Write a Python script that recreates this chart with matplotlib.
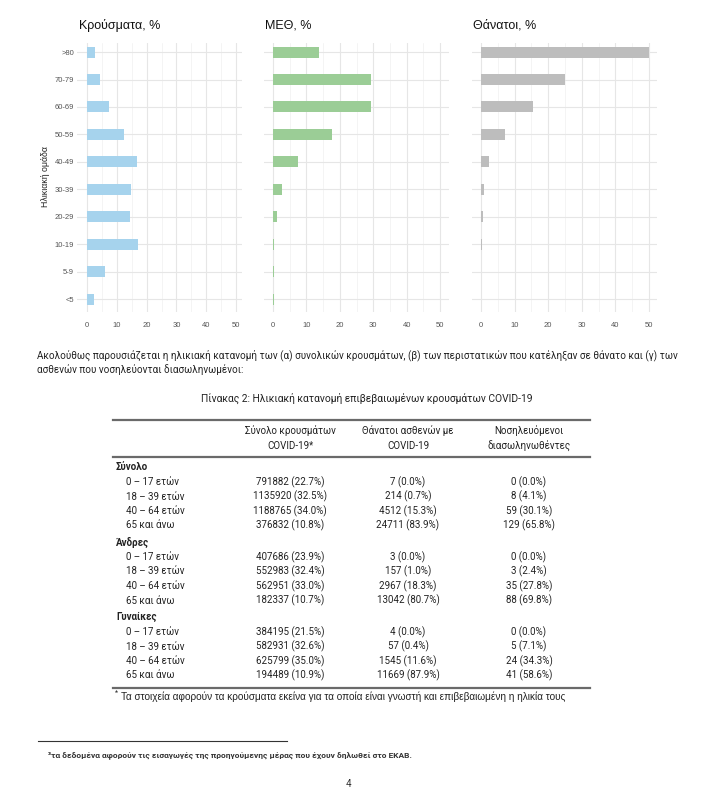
"""Age distribution page: three horizontal bar panels plus the summary table."""

import matplotlib

matplotlib.use("Agg")

import matplotlib.pyplot as plt
from matplotlib.lines import Line2D

W, H = 702, 791

# --- chart data (percent per age group, bottom to top) ---
AGE_GROUPS = ["<5", "5-9", "10-19", "20-29", "30-39", "40-49", "50-59", "60-69", "70-79", ">80"]
CASES_PCT = [2.5, 6.1, 17.2, 14.5, 14.8, 16.9, 12.5, 7.5, 4.5, 2.8]
ICU_PCT = [0.3, 0.2, 0.3, 1.1, 2.6, 7.4, 17.6, 29.3, 29.3, 13.7]
DEATHS_PCT = [0.1, 0.0, 0.2, 0.5, 0.9, 2.4, 7.1, 15.5, 25.0, 50.0]
PANEL_TITLES = ["Κρούσματα, %", "ΜΕΘ, %", "Θάνατοι, %"]
X_TICKS = [0, 10, 20, 30, 40, 50]

# --- table data ---
GROUPS = ["Σύνολο", "Άνδρες", "Γυναίκες"]
AGE_ROWS = ["0 – 17 ετών", "18 – 39 ετών", "40 – 64 ετών", "65 και άνω"]
CASES = [[791882, 1135920, 1188765, 376832],
         [407686, 552983, 562951, 182337],
         [384195, 582931, 625799, 194489]]
CASES_SHARE = [[22.7, 32.5, 34.0, 10.8],
               [23.9, 32.4, 33.0, 10.7],
               [21.5, 32.6, 35.0, 10.9]]
DEATHS = [[7, 214, 4512, 24711],
          [3, 157, 2967, 13042],
          [4, 57, 1545, 11669]]
DEATHS_SHARE = [[0.0, 0.7, 15.3, 83.9],
                [0.0, 1.0, 18.3, 80.7],
                [0.0, 0.4, 11.6, 87.9]]
ICU = [[0, 8, 59, 129],
       [0, 3, 35, 88],
       [0, 5, 24, 41]]
ICU_SHARE = [[0.0, 4.1, 30.1, 65.8],
             [0.0, 2.4, 27.8, 69.8],
             [0.0, 7.1, 34.3, 58.6]]
HEADERS = [("Σύνολο κρουσμάτων", "COVID-19*"),
           ("Θάνατοι ασθενών με", "COVID-19"),
           ("Νοσηλευόμενοι", "διασωληνωθέντες")]

CHART_FONT = ["Liberation Sans", "DejaVu Sans"]
DOC_FONT = ["Roboto", "DejaVu Sans"]

fig = plt.figure(figsize=(W / 100, H / 100), dpi=100)
fig.patch.set_facecolor("white")

# page-level axes in pixel coordinates for text and rules
page = fig.add_axes([0, 0, 1, 1])
page.set_xlim(0, W)
page.set_ylim(H, 0)
page.axis("off")


def px_axes(left, top, right, bottom):
    return fig.add_axes([left / W, 1 - bottom / H, (right - left) / W, (bottom - top) / H])


# (grid left, grid right, px of 0, px of 50)
panel_px = [(77, 242, 87, 236), (264, 449, 273, 440), (472, 657, 481, 649)]
panel_data = [CASES_PCT, ICU_PCT, DEATHS_PCT]
panel_colors = ["#a6d3ed", "#9bcd96", "#bdbdbd"]
title_x = [79, 265, 473]

for i, (gl, gr, x0, x50) in enumerate(panel_px):
    ax = px_axes(gl, 43, gr, 312)
    s = (x50 - x0) / 50
    ax.set_xlim((gl - x0) / s, (gr - x0) / s)
    ax.set_ylim(-0.47, 9.33)
    ax.set_axisbelow(True)
    ax.barh(range(len(AGE_GROUPS)), panel_data[i], height=0.4, color=panel_colors[i])
    ax.set_xticks(X_TICKS)
    ax.set_xticks([5, 15, 25, 35, 45], minor=True)
    ax.set_yticks(range(len(AGE_GROUPS)))
    ax.set_yticklabels(AGE_GROUPS if i == 0 else [])
    ax.grid(True, which="major", color="#e6e6e6", lw=0.8)
    ax.grid(True, which="minor", axis="x", color="#f0f0f0", lw=0.5)
    ax.tick_params(which="both", length=0, labelsize=5.5, labelcolor="#555555")
    ax.tick_params(axis="x", pad=7)
    ax.tick_params(axis="y", pad=2)
    for lab in ax.get_xticklabels() + ax.get_yticklabels():
        lab.set_fontfamily(CHART_FONT)
    for sp in ax.spines.values():
        sp.set_visible(False)
    page.text(title_x[i], 25, PANEL_TITLES[i], fontsize=9, family=CHART_FONT,
              color="#111111", va="center", ha="left")

page.text(45, 177, "Ηλικιακή ομάδα", rotation=90, fontsize=6.3, family=CHART_FONT,
          color="#222222", ha="center", va="center")

# --- paragraph and caption ---
page.text(37, 355, "Ακολούθως παρουσιάζεται η ηλικιακή κατανομή των (α) συνολικών κρουσμάτων, "
          "(β) των περιστατικών που κατέληξαν σε θάνατο και (γ) των",
          fontsize=7.1, family=DOC_FONT, color="#222222", va="center")
page.text(37, 370, "ασθενών που νοσηλεύονται διασωληνωμένοι:",
          fontsize=7.1, family=DOC_FONT, color="#222222", va="center")
page.text(367, 398, "Πίνακας 2: Ηλικιακή κατανομή επιβεβαιωμένων κρουσμάτων COVID-19",
          fontsize=7.4, family=DOC_FONT, color="#222222", ha="center", va="center")

# --- table ---
tx0, tx1 = 113, 590
col_x = [290, 408, 529]
for yy in (420, 457, 688):
    page.add_line(Line2D([tx0, tx1], [yy, yy], color="#6a6a6a", lw=1.6))

for c, (l1, l2) in enumerate(HEADERS):
    page.text(col_x[c], 431, l1, fontsize=7, family=DOC_FONT, color="#222222", ha="center", va="center")
    page.text(col_x[c], 446, l2, fontsize=7, family=DOC_FONT, color="#222222", ha="center", va="center")

group_y = [467, 542, 617]
columns = [(CASES, CASES_SHARE), (DEATHS, DEATHS_SHARE), (ICU, ICU_SHARE)]
for g, gname in enumerate(GROUPS):
    y0 = group_y[g]
    page.text(116, y0, gname, fontsize=7, family=DOC_FONT, weight="bold", color="#222222", va="center")
    for r, rname in enumerate(AGE_ROWS):
        yy = y0 + 15 + r * 14.5
        page.text(126, yy, rname, fontsize=7, family=DOC_FONT, color="#222222", va="center")
        for c, (vals, shares) in enumerate(columns):
            page.text(col_x[c], yy, f"{vals[g][r]} ({shares[g][r]:.1f}%)", fontsize=7,
                      family=DOC_FONT, color="#222222", ha="center", va="center")

page.text(115, 693, "*", fontsize=5, family=DOC_FONT, color="#222222", va="center")
page.text(121, 697, "Τα στοιχεία αφορούν τα κρούσματα εκείνα για τα οποία είναι γνωστή "
          "και επιβεβαιωμένη η ηλικία τους",
          fontsize=7.2, family=CHART_FONT, color="#222222", va="center")

# --- page footnote ---
page.add_line(Line2D([38, 287], [741, 741], color="#333333", lw=0.8))
page.text(48, 755, "³τα δεδομένα αφορούν τις εισαγωγές της προηγούμενης μέρας που έχουν δηλωθεί στο ΕΚΑΒ.",
          fontsize=6, family=DOC_FONT, weight="bold", color="#333333", va="center")
page.text(348, 789, "4", fontsize=7, family=DOC_FONT, color="#333333", ha="center", va="bottom")

fig.savefig("out.png", dpi=100, facecolor="white")
